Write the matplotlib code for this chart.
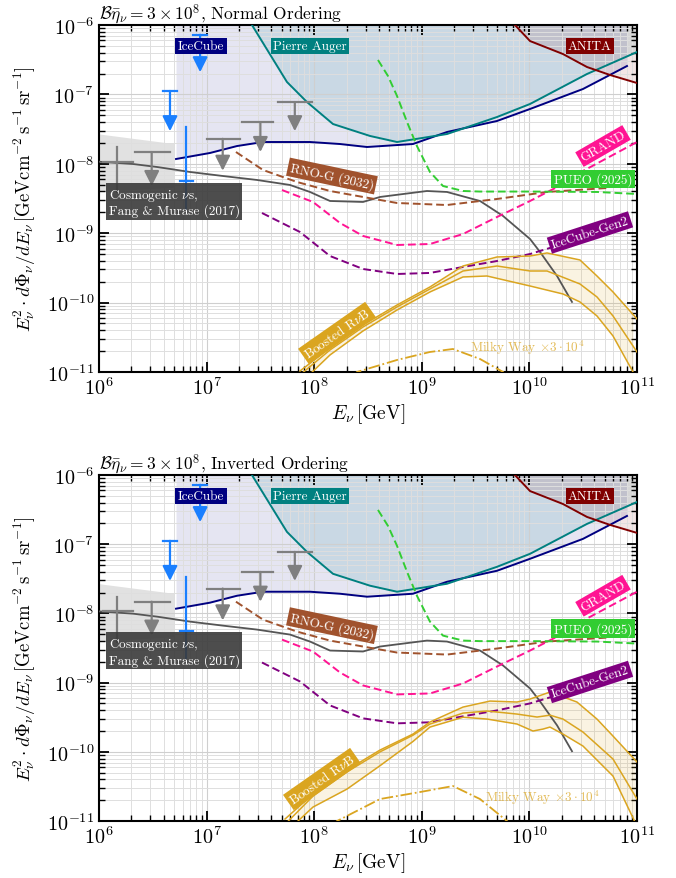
import numpy as np
import matplotlib
matplotlib.use("Agg")
import matplotlib.pyplot as plt
from matplotlib.ticker import LogLocator, FuncFormatter, NullFormatter

plt.rcParams['font.family'] = ['cmr10', 'DejaVu Serif']
plt.rcParams['mathtext.fontset'] = 'cm'
plt.rcParams['axes.unicode_minus'] = False

# ---------------- data (log10 values) ----------------
icecube_logE = [6.716, 7.032, 7.283, 7.524, 7.961, 8.240, 8.491, 8.918, 9.234, 9.699, 10.006, 10.498, 10.907]
icecube_logF = [-7.931, -7.844, -7.744, -7.686, -7.686, -7.715, -7.758, -7.715, -7.542, -7.383, -7.210, -6.922, -6.591]

auger_logE = [7.38, 7.422, 7.747, 7.933, 8.175, 8.519, 8.770, 9.234, 9.699, 10.006, 10.535, 11.0]
auger_logF = [-5.93, -6.0, -6.821, -7.110, -7.427, -7.599, -7.686, -7.571, -7.326, -7.138, -6.706, -6.389]

anita_logE = [9.84, 9.866, 10.006, 10.312, 10.535, 10.749, 11.0]
anita_logF = [-5.96, -6.0, -6.231, -6.418, -6.605, -6.720, -6.836]

cosmo_logE = [6.0, 6.316, 6.539, 6.725, 6.846, 7.152, 7.468, 7.775, 7.961, 8.147, 8.454, 8.612,
              9.048, 9.234, 9.541, 9.755, 10.006, 10.099, 10.257, 10.396]
cosmo_logF = [-7.97, -8.003, -8.046, -8.089, -8.118, -8.176, -8.233, -8.305, -8.406, -8.536, -8.550, -8.478,
              -8.392, -8.406, -8.536, -8.752, -9.084, -9.271, -9.617, -9.991]
cosmo_band_logE = [6.0, 6.70]
cosmo_band_hi = [-7.57, -7.71]
cosmo_band_lo = [-8.40, -8.34]

rnog_logE = [7.273, 7.524, 7.840, 8.147, 8.454, 8.770, 9.234, 9.699, 10.164, 10.721]
rnog_logF = [-7.830, -8.089, -8.262, -8.392, -8.478, -8.565, -8.594, -8.507, -8.406, -8.349]

grand_logE = [7.701, 7.989, 8.240, 8.454, 8.770, 9.076, 9.383, 9.699, 10.006, 10.312, 10.498, 11.0]
grand_logF = [-8.378, -8.550, -8.853, -9.040, -9.170, -9.156, -9.012, -8.767, -8.536, -8.291, -8.104, -7.686]

gen2_logE = [7.515, 7.868, 8.147, 8.454, 8.770, 9.076, 9.383, 9.699, 10.006, 10.312, 10.628, 10.935]
gen2_logF = [-8.709, -8.983, -9.329, -9.516, -9.588, -9.573, -9.487, -9.401, -9.300, -9.156, -9.012, -8.896]

pueo_logE = [8.593, 8.686, 8.770, 8.863, 8.955, 9.076, 9.197, 9.383, 9.541, 10.006, 10.628, 11.0]
pueo_logF = [-6.504, -6.735, -7.023, -7.398, -7.744, -8.118, -8.320, -8.392, -8.400, -8.400, -8.406, -8.435]

# Boosted RnuB, normal ordering
rnb_no_logE = [7.868, 8.147, 8.454, 8.770, 9.076, 9.383, 9.699, 10.006, 10.164, 10.470, 10.628, 10.777, 11.0]
rnb_no_up = [-10.986, -10.654, -10.323, -10.035, -9.775, -9.473, -9.343, -9.329, -9.285, -9.386, -9.617, -9.847, -10.236]
rnb_no_mid = [-11.043, -10.683, -10.352, -10.063, -9.804, -9.545, -9.473, -9.545, -9.545, -9.732, -9.919, -10.193, -10.712]
rnb_no_low_logE = [7.914, 8.147, 8.454, 8.770, 9.076, 9.383, 9.606, 10.006, 10.312, 10.470, 10.628, 10.777, 10.963]
rnb_no_low = [-11.101, -10.755, -10.409, -10.107, -9.847, -9.631, -9.617, -9.761, -9.876, -9.991, -10.193, -10.481, -11.0]

# Boosted RnuB, inverted ordering
rnb_io_up_logE = [7.729, 7.989, 8.305, 8.612, 8.918, 9.076, 9.383, 9.634, 9.885, 10.006, 10.191, 10.442, 10.628, 10.777, 11.0]
rnb_io_up = [-10.971, -10.610, -10.263, -9.974, -9.743, -9.569, -9.353, -9.266, -9.280, -9.237, -9.136, -9.280, -9.526, -9.772, -10.147]
rnb_io_mid_logE = [7.76, 7.989, 8.305, 8.612, 8.918, 9.076, 9.383, 9.606, 9.885, 10.071, 10.191, 10.312, 10.498, 10.777, 11.0]
rnb_io_mid = [-11.0, -10.64, -10.29, -10.0, -9.76, -9.598, -9.44, -9.41, -9.454, -9.497, -9.47, -9.526, -9.714, -10.104, -10.682]
rnb_io_low_logE = [7.84, 7.989, 8.305, 8.612, 8.918, 9.076, 9.383, 9.606, 9.885, 10.033, 10.126, 10.191, 10.312, 10.498, 10.777, 10.981]
rnb_io_low = [-11.014, -10.798, -10.538, -10.2, -9.85, -9.642, -9.50, -9.526, -9.598, -9.699, -9.671, -9.642, -9.743, -9.916, -10.350, -11.014]

# Milky Way x 3e4
mw_no_logE = [8.35, 8.398, 8.770, 9.076, 9.290, 9.541, 9.755, 9.80]
mw_no_logF = [-11.07, -11.0, -10.827, -10.712, -10.669, -10.813, -11.0, -11.07]
mw_io_logE = [8.16, 8.212, 8.612, 8.983, 9.290, 9.541, 9.792, 9.84]
mw_io_logF = [-11.07, -11.0, -10.682, -10.581, -10.494, -10.682, -11.0, -11.07]

# gray (IceCube) data point and upper limits
gray_pt_logE, gray_pt_lo, gray_pt_hi = 6.17, 6.04, 6.32
gray_pt_logF, gray_pt_Fhi, gray_pt_Flo = -7.97, -7.76, -8.41
gray_ul_logE = [6.49, 7.15, 7.50, 7.82]
gray_ul_lo = [6.335, 7.00, 7.33, 7.66]
gray_ul_hi = [6.66, 7.31, 7.62, 7.98]
gray_ul_logF = [-7.83, -7.64, -7.40, -7.11]
gray_ul_tip = [-8.32, -8.10, -7.83, -7.53]

# blue IceCube limits and Glashow event
blue_ul_logE = [6.66, 6.94]
blue_ul_logF = [-6.95, -6.14]
blue_ul_tip = [-7.53, -6.68]
glashow_logE, glashow_Fhi, glashow_Flo, glashow_F = 6.81, -7.47, -8.65, -8.25


def P(a):
    return 10 ** np.asarray(a, dtype=float)


NAVY = '#000080'
TEAL = '#008080'
MAROON = '#800000'
SIENNA = '#a0522d'
PINK = '#ff1493'
PURPLE = '#800080'
LIME = '#32cd32'
GOLD = '#daa520'
BLUE = '#1a7fff'
GRAY = '#7f7f7f'


def label(ax, le, lf, text, color, rot=0, fs=9.5, ha='center', alpha=1.0):
    ax.text(10 ** le, 10 ** lf, text, color='white', fontsize=fs, rotation=rot,
            ha=ha, va='center', rotation_mode='anchor', zorder=10,
            bbox=dict(boxstyle='square,pad=0.18', fc=color, ec='none', alpha=alpha))


def panel(ax, title, rnb, mw, rnb_lab, mw_lab):
    ax.set_xscale('log')
    ax.set_yscale('log')
    ax.set_xlim(1e6, 1e11)
    ax.set_ylim(1e-11, 1e-6)

    # shaded exclusion regions
    ax.fill_between(P(icecube_logE), P(icecube_logF), 1e-5, color=NAVY, alpha=0.1, lw=0, zorder=0.3)
    ax.fill_between(P(auger_logE), P(auger_logF), 1e-5, color=TEAL, alpha=0.12, lw=0, zorder=0.3)
    ax.fill_between(P(anita_logE), P(anita_logF), 1e-5, color=MAROON, alpha=0.1, lw=0, zorder=0.3)
    ax.fill_between(P(cosmo_band_logE), P(cosmo_band_lo), P(cosmo_band_hi), color='#bdbdbd', alpha=0.45, lw=0, zorder=0.3)

    ax.plot(P(icecube_logE), P(icecube_logF), color=NAVY, lw=1.4, zorder=3)
    ax.plot(P(auger_logE), P(auger_logF), color=TEAL, lw=1.4, zorder=3)
    ax.plot(P(anita_logE), P(anita_logF), color=MAROON, lw=1.4, zorder=3)
    ax.plot(P(cosmo_logE), P(cosmo_logF), color='#555555', lw=1.3, zorder=3)

    ax.plot(P(rnog_logE), P(rnog_logF), color=SIENNA, lw=1.4, ls=(0, (4, 2)), zorder=3)
    ax.plot(P(grand_logE), P(grand_logF), color=PINK, lw=1.4, ls=(0, (4, 2)), zorder=3)
    ax.plot(P(gen2_logE), P(gen2_logF), color=PURPLE, lw=1.4, ls=(0, (4, 2)), zorder=3)
    ax.plot(P(pueo_logE), P(pueo_logF), color=LIME, lw=1.4, ls=(0, (4, 2)), zorder=3)

    # Boosted RnuB band
    (uE, uF), (mE, mF), (lE, lF) = rnb
    grid = np.linspace(max(uE[0], lE[0]), min(uE[-1], lE[-1]), 300)
    ax.fill_between(P(grid), P(np.interp(grid, lE, lF)), P(np.interp(grid, uE, uF)),
                    color=GOLD, alpha=0.13, lw=0, zorder=2)
    for e, f in rnb:
        ax.plot(P(e), P(f), color=GOLD, lw=1.1, zorder=3)
    ax.plot(P(mw[0]), P(mw[1]), color=GOLD, lw=1.3, ls='-.', zorder=3)

    # gray data point + upper limits
    ax.plot(P([gray_pt_lo, gray_pt_hi]), P([gray_pt_logF] * 2), color=GRAY, lw=1.6, zorder=4)
    ax.plot(P([gray_pt_logE] * 2), P([gray_pt_Flo, gray_pt_Fhi]), color=GRAY, lw=1.6, zorder=4)
    for e, lo, hi, f, t in zip(gray_ul_logE, gray_ul_lo, gray_ul_hi, gray_ul_logF, gray_ul_tip):
        ax.plot(P([lo, hi]), P([f, f]), color=GRAY, lw=1.6, zorder=4)
        ax.annotate('', xy=(10 ** e, 10 ** t), xytext=(10 ** e, 10 ** f), zorder=4,
                    arrowprops=dict(arrowstyle='-|>,head_length=0.9,head_width=0.45',
                                    color=GRAY, lw=1.6, shrinkA=0, shrinkB=0))
    for e, f, t in zip(blue_ul_logE, blue_ul_logF, blue_ul_tip):
        ax.plot(P([e - 0.065, e + 0.065]), P([f, f]), color=BLUE, lw=1.6, zorder=4)
        ax.annotate('', xy=(10 ** e, 10 ** t), xytext=(10 ** e, 10 ** f), zorder=4,
                    arrowprops=dict(arrowstyle='-|>,head_length=0.9,head_width=0.45',
                                    color=BLUE, lw=1.6, shrinkA=0, shrinkB=0))
    ax.plot(P([glashow_logE] * 2), P([glashow_Flo, glashow_Fhi]), color=BLUE, lw=1.6, zorder=4)
    ax.plot(P([glashow_logE - 0.06, glashow_logE + 0.06]), P([glashow_F] * 2), color=BLUE, lw=1.6, zorder=4)

    # labels
    label(ax, 6.948, -6.303, 'IceCube', NAVY)
    label(ax, 7.961, -6.303, 'Pierre Auger', TEAL)
    label(ax, 10.563, -6.303, 'ANITA', MAROON)
    label(ax, 8.165, -8.176, 'RNO-G (2032)', SIENNA, rot=-12)
    label(ax, 10.684, -7.744, 'GRAND', PINK, rot=30)
    label(ax, 10.591, -8.219, 'PUEO (2025)', LIME)
    label(ax, 10.563, -8.99, 'IceCube-Gen2', PURPLE, rot=18)
    label(ax, rnb_lab[0], rnb_lab[1], r'Boosted R$\nu$B', GOLD, rot=35)
    ax.text(10 ** mw_lab[0], 10 ** mw_lab[1], r'Milky Way $\times 3\cdot 10^4$', color=GOLD,
            alpha=0.75, fontsize=9.5, ha='center', va='center', zorder=10)
    ax.text(10 ** 6.09, 10 ** -8.55, 'Cosmogenic $\\nu$s,\nFang & Murase (2017)', color='white',
            fontsize=9.5, ha='left', va='center', linespacing=1.1, zorder=10,
            bbox=dict(boxstyle='square,pad=0.18', fc='#3a3a3a', ec='none', alpha=0.9))

    # axes cosmetics
    ax.grid(which='major', color='#cfcfcf', lw=0.8, zorder=1)
    ax.grid(which='minor', color='#dedede', lw=0.7, zorder=1)
    ax.xaxis.set_major_locator(LogLocator(base=10, numticks=20))
    ax.yaxis.set_major_locator(LogLocator(base=10, numticks=20))
    ax.xaxis.set_minor_locator(LogLocator(base=10, subs=np.arange(2, 10), numticks=20))
    ax.yaxis.set_minor_locator(LogLocator(base=10, subs=np.arange(2, 10), numticks=20))
    fmt = FuncFormatter(lambda v, p: r'$10^{%d}$' % int(round(np.log10(v))))
    ax.xaxis.set_major_formatter(fmt)
    ax.yaxis.set_major_formatter(fmt)
    ax.xaxis.set_minor_formatter(NullFormatter())
    ax.yaxis.set_minor_formatter(NullFormatter())
    ax.tick_params(which='both', direction='in', top=True, right=True, labelsize=14.5)
    ax.tick_params(which='major', length=7, width=1.3)
    ax.tick_params(which='minor', length=4, width=1.0)
    for s in ax.spines.values():
        s.set_linewidth(1.5)
    ax.set_xlabel(r'$E_\nu\,[\mathrm{GeV}]$', fontsize=14, labelpad=2)
    ax.set_ylabel(r'$E_\nu^2\cdot d\Phi_\nu/dE_\nu\,[\mathrm{GeV cm^{-2}\,s^{-1}\,sr^{-1}}]$', fontsize=13.5,
                  labelpad=6)
    ax.set_title(title, loc='left', fontsize=12.5, pad=4)


fig = plt.figure(figsize=(6.76, 8.79), dpi=100)
ax1 = fig.add_axes([0.1464, 0.5757, 0.7959, 0.3947])
ax2 = fig.add_axes([0.1464, 0.0648, 0.7959, 0.3936])

panel(ax1, r'$\mathcal{B}\bar{\eta}_\nu = 3\times 10^8$, Normal Ordering',
      [(rnb_no_logE, rnb_no_up), (rnb_no_logE, rnb_no_mid), (rnb_no_low_logE, rnb_no_low)],
      (mw_no_logE, mw_no_logF), (8.212, -10.438), (9.978, -10.640))
panel(ax2, r'$\mathcal{B}\bar{\eta}_\nu = 3\times 10^8$, Inverted Ordering',
      [(rnb_io_up_logE, rnb_io_up), (rnb_io_mid_logE, rnb_io_mid), (rnb_io_low_logE, rnb_io_low)],
      (mw_io_logE, mw_io_logF), (8.072, -10.393), (10.117, -10.653))

fig.savefig('out.png', dpi=100)
